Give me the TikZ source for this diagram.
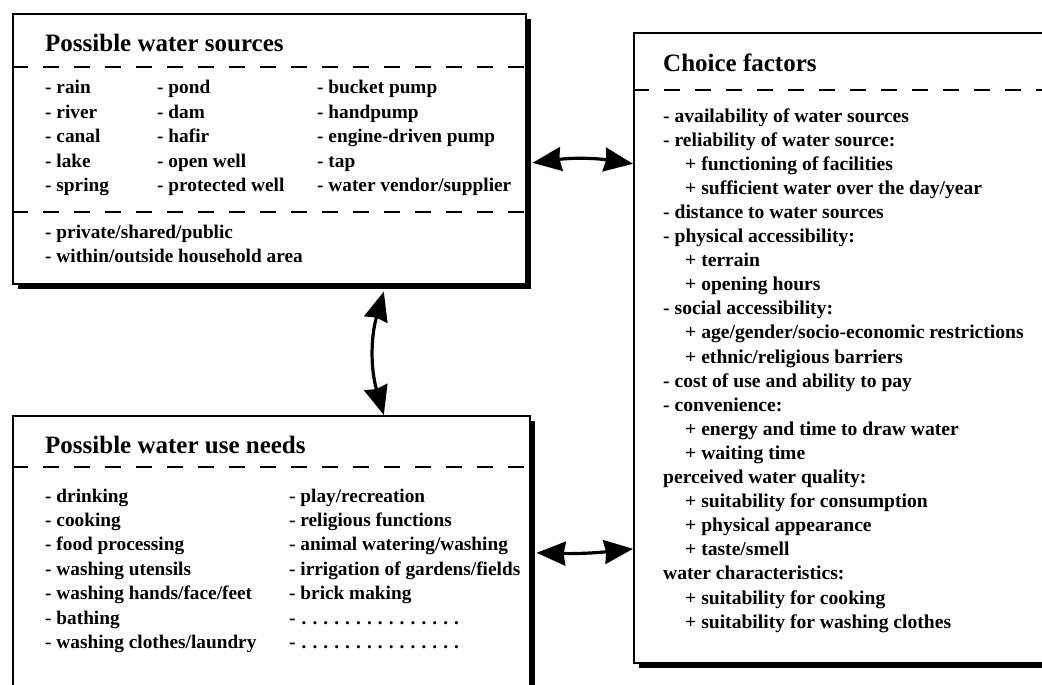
\documentclass[tikz,border=0pt]{standalone}
\usepackage{fontspec}
\setmainfont{Liberation Serif}
\usetikzlibrary{arrows.meta,shadows,calc}
% one dot of a blank entry line
\newcommand\onedot{\makebox[10.9pt][l]{.}}
\newcommand\blankentry{-\hspace{6pt}\onedot\onedot\onedot\onedot\onedot\onedot\onedot\onedot\onedot\onedot\onedot\onedot\onedot\onedot\onedot}
\tikzset{bighead/.tip={Stealth[length=29pt,width=24pt,inset=2pt]}}
\begin{document}
\begin{tikzpicture}[x=1pt,y=-1pt,
  box/.style={draw,line width=1.6pt,fill=white,rectangle,inner sep=0pt,anchor=north west,
    drop shadow={shadow xshift=5pt,shadow yshift=-5pt,fill=black,opacity=1}},
  title/.style={anchor=base west,inner sep=0pt,font=\fontsize{25}{28}\selectfont\bfseries},
  item/.style={anchor=base west,inner sep=0pt,font=\fontsize{19.3}{22}\selectfont\bfseries},
  itemr/.style={item,font=\fontsize{19.6}{22}\selectfont\bfseries},
  sep/.style={line width=2.6pt,dash pattern=on 16pt off 15pt},
  link/.style={line width=3.2pt,bighead-bighead}
]
\clip (0,0) rectangle (1042,685);
\useasboundingbox (0,0) rectangle (1042,685);
\fill[white] (0,0) rectangle (1042,685);

% the three boxes
\node[box,minimum width=513pt,minimum height=270pt] (src) at (12,13) {};
\node[box,minimum width=517pt,minimum height=285pt] (needs) at (12,415) {};
\node[box,minimum width=427pt,minimum height=630pt] (choice) at (633,32) {};

% dashed separators
\draw[sep] ($(src.north west)+(0,54)$) -- ($(src.north east)+(0,54)$);
\draw[sep] ($(src.north west)+(0,199)$) -- ($(src.north east)+(0,199)$);
\draw[sep] ($(needs.north west)+(0,52)$) -- ($(needs.north east)+(0,52)$);
\draw[sep] ($(choice.north west)+(0,58)$) -- ($(choice.north east)+(0,58)$);

% Possible water sources
\node[title] (srcT) at (45,52) {Possible water sources};
\foreach \t [count=\i from 0] in {rain,river,canal,lake,spring}
  \node[item,name=sa\i] at (45,{94+24.4*\i}) {- \t};
\foreach \t [count=\i from 0] in {pond,dam,hafir,open well,protected well}
  \node[item,name=sb\i] at (157,{94+24.4*\i}) {- \t};
\foreach \t [count=\i from 0] in {bucket pump,handpump,engine-driven pump,tap,{water vendor/supplier}}
  \node[item,name=sc\i] at (317,{94+24.4*\i}) {- \t};
\node[item] (own) at (45,238) {- private/shared/public};
\node[item] (loc) at (45,262) {- within/outside household area};

% Possible water use needs
\node[title] (needsT) at (45,453) {Possible water use needs};
\foreach \t [count=\i from 0] in {drinking,cooking,food processing,washing utensils,
    {washing hands/face/feet},bathing,{washing clothes/laundry}}
  \node[item,name=na\i] at (45,{502+24.4*\i}) {- \t};
\foreach \t [count=\i from 0] in {{play/recreation},religious functions,{animal watering/washing},
    {irrigation of gardens/fields},brick making}
  \node[item,name=nb\i] at (289,{502+24.4*\i}) {- \t};
\node[item] (nb5) at (289,624) {\blankentry};
\node[item] (nb6) at (289,648.4) {\blankentry};

% Choice factors
\node[title] (choiceT) at (663,72) {Choice factors};
\foreach \x/\t [count=\i from 0] in {
    663/{- availability of water sources},
    663/{- reliability of water source:},
    685/{+ functioning of facilities},
    685/{+ sufficient water over the day/year},
    663/{- distance to water sources},
    663/{- physical accessibility:},
    685/{+ terrain},
    685/{+ opening hours},
    663/{- social accessibility:},
    685/{+ age/gender/socio-economic restrictions},
    685/{+ ethnic/religious barriers},
    663/{- cost of use and ability to pay},
    663/{- convenience:},
    685/{+ energy and time to draw water},
    685/{+ waiting time},
    663/{perceived water quality:},
    685/{+ suitability for consumption},
    685/{+ physical appearance},
    685/{+ taste/smell},
    663/{water characteristics:},
    685/{+ suitability for cooking},
    685/{+ suitability for washing clothes}}
  \node[itemr,name=cf\i] at (\x,{122+24.1*\i}) {\t};

% connectors
\draw[link] ($(src.east)+(6,14)$) to[bend left=8] ($(choice.west)+(0,-184)$);
\draw[link] ($(src.south)+(114.5,7)$) to[bend right=16] ($(needs.north)+(112.5,0)$);
\draw[link] ($(needs.east)+(6,-5.5)$) to[bend right=4] ($(choice.west)+(0,201)$);
\end{tikzpicture}
\end{document}
